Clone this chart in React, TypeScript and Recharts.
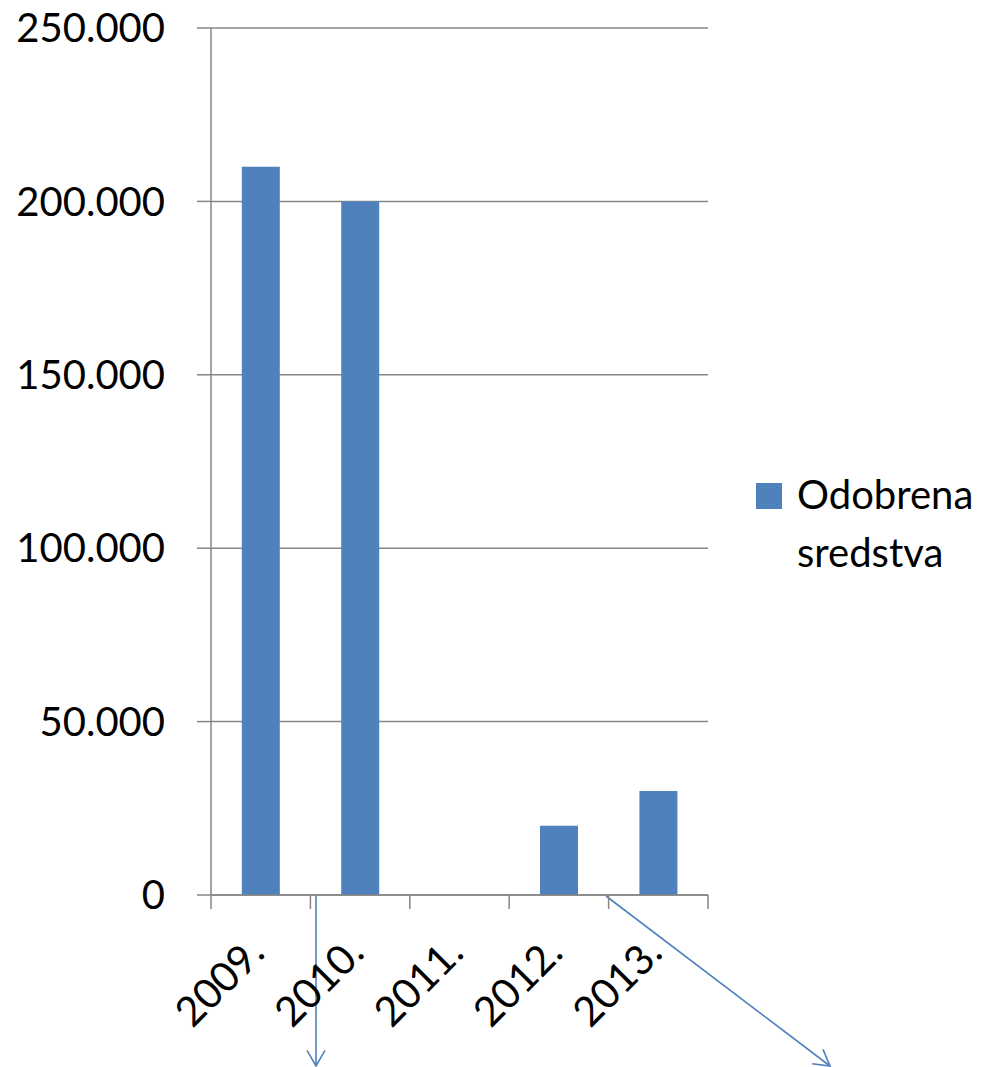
import React from "react";
import { BarChart, Bar, XAxis, YAxis, CartesianGrid, Legend, Customized } from "recharts";

const years = ["2009.", "2010.", "2011.", "2012.", "2013."];
const odobrenaSredstva = [210000, 200000, 0, 20000, 30000];
const yTicks = [0, 50000, 100000, 150000, 200000, 250000];
const seriesName = "Odobrena sredstva";

const data = years.map((y, i) => ({ year: y, value: odobrenaSredstva[i] }));

const FONT = "Lato, 'Liberation Sans', sans-serif";
const BLUE = "#4F81BD";
const GRAY = "#868686";

const fmt = (v: number) => (v === 0 ? "0" : String(v).replace(/\B(?=(\d{3})+(?!\d))/g, "."));

const XTick = (props: any) => {
  const { x, y, payload, index, visibleTicksCount } = props;
  const half = payload && typeof payload.offset === "number" ? payload.offset : 0;
  const ax = x + 6;
  const ay = y + 60;
  const isLast = typeof visibleTicksCount === "number" ? index === visibleTicksCount - 1 : index === years.length - 1;
  return (
    <g>
      <line x1={x - half} y1={y} x2={x - half} y2={y + 14} stroke={GRAY} strokeWidth={1.5} />
      {isLast && <line x1={x + half} y1={y} x2={x + half} y2={y + 14} stroke={GRAY} strokeWidth={1.5} />}
      <text
        x={ax}
        y={ay}
        textAnchor="end"
        fontSize={41}
        fontFamily={FONT}
        fill="#000"
        transform={`rotate(-45, ${ax}, ${ay})`}
      >
        {payload.value}
      </text>
    </g>
  );
};

const LegendContent = () => (
  <div style={{ display: "flex", fontFamily: FONT, fontSize: 40, color: "#000" }}>
    <div style={{ width: 26, height: 26, background: BLUE, marginTop: 18, marginRight: 15, flexShrink: 0 }} />
    <div style={{ lineHeight: "58px" }}>
      <div>Odobrena</div>
      <div>sredstva</div>
    </div>
  </div>
);

const arrow = (x1: number, y1: number, x2: number, y2: number, key: string) => {
  const dx = x2 - x1;
  const dy = y2 - y1;
  const len = Math.hypot(dx, dy);
  const ux = -dx / len;
  const uy = -dy / len;
  const a = Math.PI / 6;
  const L = 18;
  const r = (s: number) => [
    x2 + L * (ux * Math.cos(s) - uy * Math.sin(s)),
    y2 + L * (ux * Math.sin(s) + uy * Math.cos(s)),
  ];
  const [ax, ay] = r(a);
  const [bx, by] = r(-a);
  return (
    <g key={key} stroke={BLUE} strokeWidth={1.6} fill="none">
      <line x1={x1} y1={y1} x2={x2} y2={y2} />
      <polyline points={`${ax},${ay} ${x2},${y2} ${bx},${by}`} />
    </g>
  );
};

const Annotations = () => (
  <g>
    {arrow(316, 896, 316, 1066, "a1")}
    {arrow(606, 896, 830, 1066, "a2")}
  </g>
);

export default function App() {
  return (
    <div style={{ position: "absolute", left: 0, top: 0 }}>
      <BarChart
        width={988}
        height={1067}
        data={data}
        margin={{ top: 28, right: 280, bottom: 0, left: 0 }}
        barCategoryGap="31%"
      >
        <CartesianGrid vertical={false} stroke={GRAY} strokeWidth={1.5} />
        <XAxis
          dataKey="year"
          height={172}
          axisLine={{ stroke: GRAY, strokeWidth: 1.5 }}
          tickLine={false}
          tickSize={0}
          tickMargin={0}
          interval={0}
          tick={<XTick />}
        />
        <YAxis
          domain={[0, 250000]}
          ticks={yTicks}
          width={211}
          tickFormatter={fmt}
          tickSize={14}
          tickMargin={32}
          axisLine={{ stroke: GRAY, strokeWidth: 1.5 }}
          tickLine={{ stroke: GRAY, strokeWidth: 1.5 }}
          tick={{ fontSize: 40, fontFamily: FONT, fill: "#000" }}
        />
        <Legend
          layout="horizontal"
          verticalAlign="middle"
          align="center"
          wrapperStyle={{ left: 756, top: 465, width: 232 }}
          content={<LegendContent />}
        />
        <Bar dataKey="value" name={seriesName} fill={BLUE} isAnimationActive={false} />
        <Customized component={Annotations} />
      </BarChart>
    </div>
  );
}
